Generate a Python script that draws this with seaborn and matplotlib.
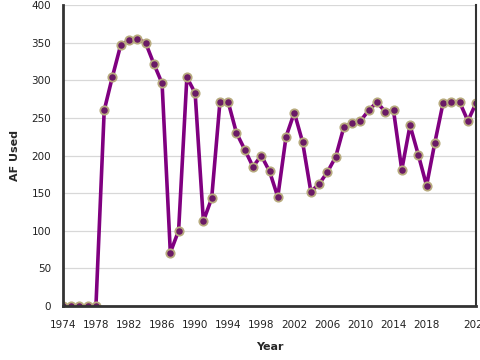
import numpy as np
import pandas as pd
import matplotlib
matplotlib.use("Agg")
import matplotlib.pyplot as plt
import seaborn as sns

years = list(range(1974, 2025))
af_used = [0, 0, 0, 0, 0, 260, 305, 347, 353, 355, 350, 322, 296, 71, 100,
           304, 283, 113, 143, 271, 271, 230, 208, 185, 200, 179, 145, 225,
           257, 218, 152, 162, 178, 198, 238, 243, 246, 260, 271, 258, 260,
           181, 240, 201, 160, 217, 270, 271, 271, 246, 270]
xtick_years = list(range(1974, 2023, 4)) + [2024]
xtick_labels = [str(y) for y in range(1974, 2019, 4)] + ["", "2024"]
ytick_vals = list(range(0, 401, 50))

df = pd.DataFrame({"Year": years, "AF Used": af_used})

sns.set_style("white")
plt.rcParams["font.family"] = ["DejaVu Sans"]

fig = plt.figure(figsize=(4.8, 3.6), dpi=100)
ax = fig.add_axes([0.131, 0.15, 0.861, 0.836])

sns.lineplot(data=df, x="Year", y="AF Used", ax=ax, color="#800080",
             linewidth=2.6, marker="o", markersize=6,
             markerfacecolor="#6a1a66", markeredgecolor="#b8ab7e",
             markeredgewidth=1.3)

ax.set_xlim(1974, 2024)
ax.set_ylim(0, 400)
ax.set_yticks(ytick_vals)
ax.set_xticks(xtick_years)
ax.set_xticklabels(xtick_labels)
ax.yaxis.grid(True, color="#d8d8d8", linewidth=0.9)
ax.set_axisbelow(True)

for side in ["left", "bottom"]:
    ax.spines[side].set_linewidth(2)
    ax.spines[side].set_color("#333333")
ax.spines["right"].set_linewidth(1.5)
ax.spines["right"].set_color("#333333")
ax.spines["top"].set_visible(False)

ax.tick_params(axis="both", direction="out", length=5, width=1,
               color="#333333", labelsize=7.5, labelcolor="#222222")
ax.tick_params(axis="x", pad=5)

ax.set_xlabel("Year", fontsize=8, fontweight="bold", labelpad=9)
ax.set_ylabel("AF Used", fontsize=8, fontweight="bold", labelpad=8)

fig.savefig("out.png", dpi=100)
